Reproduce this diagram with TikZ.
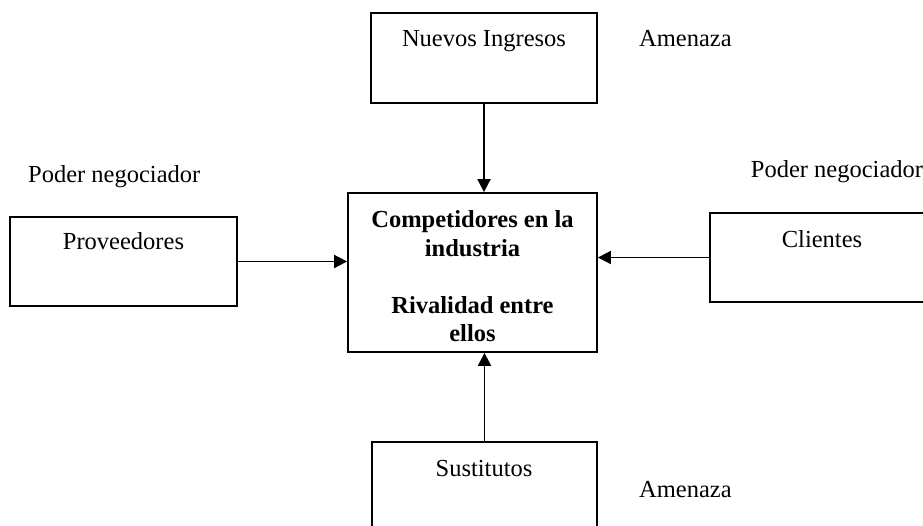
\documentclass[tikz,border=0pt]{standalone}
\usepackage{fontspec}
\setmainfont{Liberation Serif}
\usetikzlibrary{arrows.meta}
\begin{document}
\begin{tikzpicture}[x=1pt,y=-1pt,
  box/.style={draw=black, line width=1.8pt, rectangle, inner sep=0pt},
  lbl/.style={font=\fontsize{24.5}{28.5}\selectfont, inner sep=0pt, anchor=base},
  arr/.style={draw=black, line width=1.8pt, -{Triangle[length=13pt,width=13pt]}}]
\useasboundingbox (0,0) rectangle (923,525);
\clip (0,0) rectangle (923,525);
% boxes
\node[box, minimum width=226pt, minimum height=90pt] (nuevos) at (484,58) {};
\node[box, minimum width=249pt, minimum height=159pt] (central) at (472.5,272.5) {};
\node[box, minimum width=227pt, minimum height=89pt] (prov) at (123.5,261.5) {};
\node[box, minimum width=230pt, minimum height=89pt] (cli) at (825,257.5) {};
\node[box, minimum width=225pt, minimum height=98pt] (sust) at (484.5,491) {};
% texts
\node[lbl] (tnuevos) at (484,46) {Nuevos Ingresos};
\node[lbl] (tprov) at (123.5,249) {Proveedores};
\node[lbl] (tcli) at (822,247) {Clientes};
\node[lbl] (tsust) at (484,476) {Sustitutos};
\node[lbl, anchor=base west] (am1) at (639,46) {Amenaza};
\node[lbl, anchor=base west] (am2) at (639,497) {Amenaza};
\node[lbl, anchor=base west] (pn1) at (28,182) {Poder negociador};
\node[lbl, anchor=base west] (pn2) at (750.7,177) {Poder negociador};
\node[font=\fontsize{24.5}{28.5}\selectfont\bfseries, inner sep=0pt, align=center, anchor=north] (tcentral) at (472.5,210.3)
  {Competidores en la\\industria\\[28.5pt]Rivalidad entre\\ellos};
% arrows
\draw[arr] (nuevos.south) -- (nuevos.south |- central.north);
\draw[arr] (prov.east) -- (prov.east -| central.west);
\draw[arr] (cli.west) -- (cli.west -| central.east);
\draw[arr] (sust.north) -- (sust.north |- central.south);
\end{tikzpicture}
\end{document}
